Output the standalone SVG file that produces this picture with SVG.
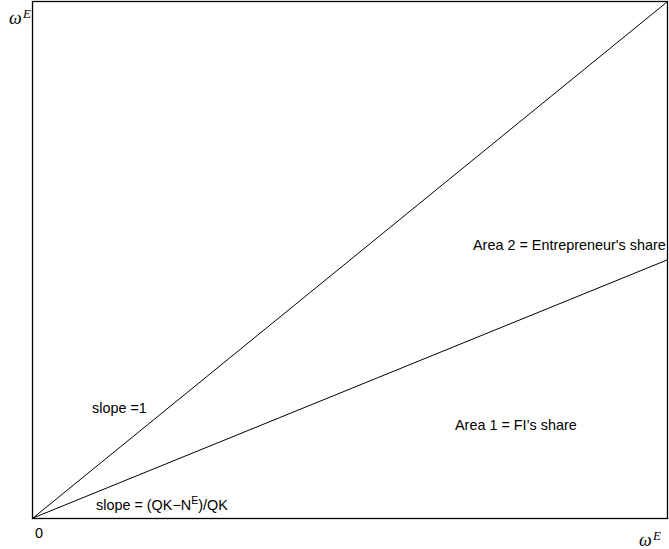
<svg xmlns="http://www.w3.org/2000/svg" width="669" height="549" viewBox="0 0 669 549">
<style>
.ax{fill:none;stroke:#000;stroke-width:1.3}
.ln{fill:none;stroke:#000;stroke-width:1}
.t{font-family:"Liberation Sans",Arial,sans-serif;font-size:14.4px;fill:#000}
.m{font-family:"Liberation Serif","Times New Roman",serif;font-style:italic;fill:#000}
</style>
<rect width="669" height="549" fill="#fff"/>
<g id="frame">
<rect class="ax" x="32.5" y="1.5" width="635" height="517"/>
</g>
<g id="connectors">
<line class="ln" x1="33" y1="518" x2="667" y2="2"/>
<line class="ln" x1="33" y1="518" x2="667" y2="260"/>
</g>
<g id="axis-y-label">
<text class="m" x="9" y="24" font-size="18">ω</text>
<text class="m" x="23" y="18" font-size="13">E</text>
</g>
<g id="axis-x-label">
<text class="m" x="639" y="546" font-size="18">ω</text>
<text class="m" x="653" y="540" font-size="13">E</text>
</g>
<g id="origin"><text class="t" x="35" y="538">0</text></g>
<g id="slope1"><text class="t" x="92" y="413">slope =1</text></g>
<g id="slope2"><text class="t" x="96" y="510">slope = (QK−N<tspan font-size="10.5" dy="-6">E</tspan><tspan dy="6">)/QK</tspan></text></g>
<g id="area2"><text class="t" x="473" y="250">Area 2 = Entrepreneur's share</text></g>
<g id="area1"><text class="t" x="455" y="430">Area 1 = FI’s share</text></g>
</svg>
